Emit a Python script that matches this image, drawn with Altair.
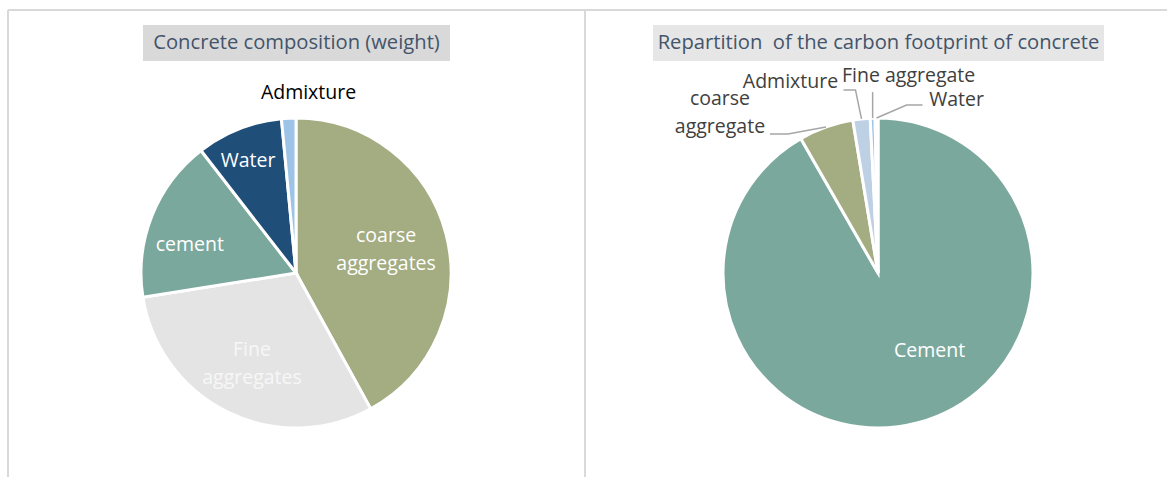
import math
import altair as alt
import pandas as pd

# Concrete composition by weight (%), clockwise from 12 o'clock
mix_names = ["coarse aggregates", "Fine aggregates", "cement", "Water", "Admixture"]
mix_share = [42.0, 30.5, 17.0, 9.0, 1.5]
mix_labels = ["coarse\naggregates", "Fine\naggregates", "cement", "Water", "Admixture"]

# Share of the carbon footprint of concrete (%), clockwise from 12 o'clock
co2_names = ["Cement", "coarse aggregate", "Admixture", "Fine aggregate", "Water"]
co2_share = [91.7, 5.7, 1.8, 0.5, 0.3]
co2_labels = ["Cement", "coarse\naggregate", "Admixture", "Fine aggregate", "Water"]

titles = ["Concrete composition (weight)", "Repartition\u00a0 of the carbon footprint of concrete"]

# ---- styling / layout ----
FONT = "Open Sans"
LABEL_SIZE = 19.5
TITLE_SIZE = 20.2
R = 155
CENTERS = [(296, 273), (878, 273)]
mix_colors = ["#A4AC82", "#E4E4E4", "#7BA89D", "#1F4E79", "#9DC3E6"]
co2_colors = ["#7BA89D", "#A4AC82", "#BED1E4", "#9DC3E6", "#1F4E79"]

# per-label placement: radius, dx, dy, colour
mix_label_style = {
    "coarse aggregates": (93, 0, -14, "white"),
    "Fine aggregates": (100, 0, -13, "#F7F7F7"),
    "cement": (110, -4, 12, "white"),
    "Water": (122, -3, 1, "white"),
    "Admixture": (180, 21, 0, "black"),
}
co2_label_style = {
    "Cement": (80, 31, 1, "white"),
    "coarse aggregate": (R, -106, -28, "#404040"),
    "Admixture": (R, -71, -37, "#404040"),
    "Fine aggregate": (R, 36, -42, "#404040"),
    "Water": (R, 80, -18, "#404040"),
}
# leader polylines as offsets from the slice edge at its mid angle
co2_leaders = {
    "coarse aggregate": [(0, 0), (-38, 7), (-56, 7)],
    "Admixture": [(0, 0), (-6, -29), (-18, -29)],
    "Fine aggregate": [(0, 0), (0, -26)],
    "Water": [(0, 0), (30, -13), (46, -13)],
}

theta_scale = alt.Scale(domain=[0, 100])


def pie_frame(names, share, labels, colors):
    return pd.DataFrame({
        "name": names, "value": share, "label": labels,
        "color": colors, "idx": list(range(len(names))),
    })


def pie_layers(df, center, styles):
    cx, cy = center
    arcs = alt.Chart(df).mark_arc(radius=R, stroke="white", strokeWidth=3).encode(
        theta=alt.Theta("value:Q", stack=True, scale=theta_scale),
        order=alt.Order("idx:Q"),
        color=alt.Color("color:N", scale=None),
        x=alt.value(cx), y=alt.value(cy),
    )
    layers = [arcs]
    base = alt.Chart(df).transform_window(
        cum="sum(value)", sort=[alt.SortField("idx")], frame=[None, 0]
    ).transform_calculate(mid="datum.cum - datum.value / 2")
    for name, (r, dx, dy, col) in styles.items():
        layers.append(
            base.transform_filter(alt.datum.name == name).mark_text(
                radius=r, dx=dx, dy=dy, align="center", baseline="middle",
                lineBreak="\n", font=FONT, fontSize=LABEL_SIZE, color=col,
                lineHeight=28,
            ).encode(
                theta=alt.Theta("mid:Q", scale=theta_scale),
                text="label:N",
                x=alt.value(cx), y=alt.value(cy),
            )
        )
    return layers


mix_df = pie_frame(mix_names, mix_share, mix_labels, mix_colors)
co2_df = pie_frame(co2_names, co2_share, co2_labels, co2_colors)

# leader lines for the small slices of the footprint pie
rows = []
cum = 0.0
cx, cy = CENTERS[1]
for name, v in zip(co2_names, co2_share):
    mid = (cum + v / 2) / 100 * 2 * math.pi
    cum += v
    if name in co2_leaders:
        ex, ey = cx + R * math.sin(mid), cy - R * math.cos(mid)
        for k, (ox, oy) in enumerate(co2_leaders[name]):
            rows.append({"name": name, "seq": k, "px": ex + ox, "py": ey + oy})
leader_df = pd.DataFrame(rows)
leaders = alt.Chart(leader_df).mark_line(color="#A6A6A6", strokeWidth=1.5).encode(
    x=alt.X("px:Q", scale=None, axis=None),
    y=alt.Y("py:Q", scale=None, axis=None),
    detail="name:N",
    order=alt.Order("seq:Q"),
)

# panel frame
frame_col = "#D9D9D9"
frame = [
    alt.Chart(pd.DataFrame({"a": [0]})).mark_rule(color=frame_col, strokeWidth=2).encode(
        x=alt.value(8), x2=alt.value(1167), y=alt.value(10), y2=alt.value(10)),
    alt.Chart(pd.DataFrame({"a": [0]})).mark_rule(color=frame_col, strokeWidth=2).encode(
        x=alt.value(8), x2=alt.value(8), y=alt.value(10), y2=alt.value(477)),
    alt.Chart(pd.DataFrame({"a": [0]})).mark_rule(color=frame_col, strokeWidth=2).encode(
        x=alt.value(585), x2=alt.value(585), y=alt.value(10), y2=alt.value(477)),
]

# title boxes
title_layers = []
for t, (x0, x1, fill) in zip(titles, [(143, 450, "#D9D9D9"), (653, 1104, "#E6E6E6")]):
    tdf = pd.DataFrame({"title": [t]})
    title_layers.append(alt.Chart(tdf).mark_rect(color=fill).encode(
        x=alt.value(x0), x2=alt.value(x1), y=alt.value(25), y2=alt.value(61)))
    title_layers.append(alt.Chart(tdf).mark_text(
        font=FONT, fontSize=TITLE_SIZE, color="#44546A", align="center", baseline="middle"
    ).encode(text="title:N", x=alt.value((x0 + x1) / 2), y=alt.value(43)))

chart = alt.layer(
    *frame,
    *title_layers,
    *pie_layers(mix_df, CENTERS[0], mix_label_style),
    *pie_layers(co2_df, CENTERS[1], co2_label_style),
    leaders,
).properties(
    width=1167, height=477, padding=0,
    autosize=alt.AutoSizeParams(type="none"),
).configure_view(strokeWidth=0)

chart.save("out.html", embed_options={"renderer": "svg", "actions": False})
